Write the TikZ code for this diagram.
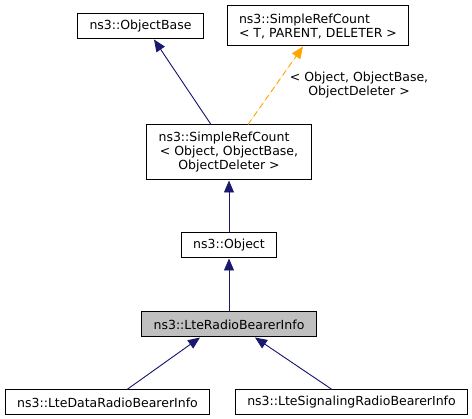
\documentclass[tikz,border=0pt]{standalone}
\usepackage{fontspec}
\setmainfont{DejaVu Sans}
\usetikzlibrary{positioning, arrows.meta}
\definecolor{edgeBlue}{HTML}{191970}
\definecolor{edgeOrange}{HTML}{FFA500}
\definecolor{curGray}{HTML}{BFBFBF}
\tikzstyle{cls}=[rectangle, draw=black, line width=1pt, fill=white,
inner xsep=12pt, inner ysep=3pt, minimum height=25pt, align=center]
\tikzstyle{clsCur}=[cls, fill=curGray]
\tikzstyle{inherit}=[-{Triangle[width=10pt, length=12pt]}, line width=0.9pt, draw=edgeBlue, fill=edgeBlue]
\tikzstyle{tmplArg}=[-{Triangle[width=10pt, length=12pt]}, line width=0.9pt, dashed,
dash pattern=on 6pt off 4pt, draw=edgeOrange, fill=edgeOrange]

\begin{document}
\begin{tikzpicture}[x=1pt, y=-1pt, node distance=52pt,
  font=\fontsize{12.5}{14}\selectfont]
      \useasboundingbox (0,0) rectangle (472,419);
      \node(base) [cls] at (140.5,26.5) {ns3::ObjectBase};
      \node(tmpl) [cls, minimum height=40pt, align=left] at (318,26)
      {ns3::SimpleRefCount\\\textless{} T, PARENT, DELETER \textgreater};
      \node(sro) [cls, minimum height=55pt] at (229,152.5)
      {ns3::SimpleRefCount\hspace*{10pt}\\\textless{} Object, ObjectBase,\\ObjectDeleter \textgreater};
      \draw [inherit] ([xshift=-18pt]sro.north) -- ([xshift=13.5pt]base.south);
      \draw [tmplArg] ([xshift=19pt]sro.north) -- node [midway, right=14pt,
      inner sep=0pt, align=center] {\textless{} Object, ObjectBase,\\ObjectDeleter \textgreater}
      ([xshift=-15pt]tmpl.south);
      \node(obj) [cls, below=of sro] {ns3::Object};
      \draw [inherit] (obj) -- (sro);
      \node(lrbi) [clsCur, below=53pt of obj] {ns3::LteRadioBearerInfo};
      \draw [inherit] (lrbi) -- (obj);
      \node(data) [cls, below=of lrbi, xshift=-121.5pt] {ns3::LteDataRadioBearerInfo};
      \draw [inherit] ([xshift=19.5pt]data.north) -- ([xshift=-29pt]lrbi.south);
      \node(sig) [cls, below=of lrbi, xshift=122.5pt] {ns3::LteSignalingRadioBearerInfo};
      \draw [inherit] ([xshift=-19.5pt]sig.north) -- ([xshift=26pt]lrbi.south);
\end{tikzpicture}
\end{document}
